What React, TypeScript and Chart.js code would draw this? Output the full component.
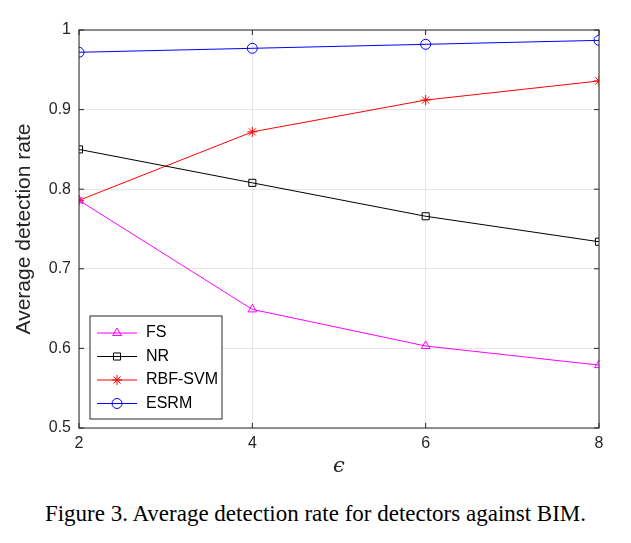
import { useEffect, useRef } from 'react'
import { Chart, registerables } from 'chart.js'
import { drawPoint } from 'chart.js/helpers'

Chart.register(...registerables)

const epsilons = [2, 4, 6, 8]
const fsRate = [0.786, 0.649, 0.603, 0.579]
const nrRate = [0.85, 0.808, 0.766, 0.734]
const rbfRate = [0.786, 0.872, 0.912, 0.936]
const esrmRate = [0.972, 0.977, 0.982, 0.987]

const boxPlugin = {
  id: 'boxAndLegend',
  afterDraw(chart: any) {
    const { ctx, chartArea: a } = chart
    ctx.save()
    ctx.strokeStyle = '#262626'
    ctx.lineWidth = 1
    ctx.strokeRect(a.left, a.top, a.right - a.left, a.bottom - a.top)
    // inward ticks
    const xs = chart.scales.x
    const ys = chart.scales.y
    ctx.beginPath()
    xs.ticks.forEach((t: any) => {
      const px = xs.getPixelForValue(t.value)
      ctx.moveTo(px, a.bottom); ctx.lineTo(px, a.bottom - 5)
      ctx.moveTo(px, a.top); ctx.lineTo(px, a.top + 5)
    })
    ys.ticks.forEach((t: any) => {
      const py = ys.getPixelForValue(t.value)
      ctx.moveTo(a.left, py); ctx.lineTo(a.left + 5, py)
      ctx.moveTo(a.right, py); ctx.lineTo(a.right - 5, py)
    })
    ctx.stroke()
    // legend
    const lx = 82, ly = 308, lw = 132, lh = 103
    ctx.fillStyle = '#fff'
    ctx.fillRect(lx, ly, lw, lh)
    ctx.strokeRect(lx, ly, lw, lh)
    chart.data.datasets.forEach((ds: any, i: number) => {
      const y = ly + 17 + i * 23.5
      ctx.strokeStyle = ds.borderColor
      ctx.beginPath()
      ctx.moveTo(lx + 7, y); ctx.lineTo(lx + 47, y)
      ctx.stroke()
      ctx.fillStyle = 'rgba(0,0,0,0)'
      ctx.strokeStyle = ds.borderColor
      ctx.lineWidth = 1
      drawPoint(ctx, {
        pointStyle: ds.pointStyle,
        radius: ds.pointRadius,
        borderWidth: 1,
      } as any, lx + 27, y)
      ctx.fillStyle = '#000'
      ctx.font = '16px Arial, "Liberation Sans"'
      ctx.textBaseline = 'middle'
      ctx.fillText(ds.label, lx + 56, y)
    })
    ctx.restore()
  },
}

function mk(label: string, data: number[], color: string, style: string) {
  return {
    label, data, borderColor: color, backgroundColor: 'transparent',
    pointStyle: style, pointRadius: 5, pointBorderColor: color,
    pointBackgroundColor: 'transparent', borderWidth: 1, pointBorderWidth: 1,
  }
}

export default function App() {
  const canvasRef = useRef<HTMLCanvasElement>(null)

  useEffect(() => {
    if (!canvasRef.current) return
    const chart = new Chart(canvasRef.current, {
      type: 'line',
      data: {
        datasets: [
          mk('FS', fsRate, '#ff00ff', 'triangle'),
          mk('NR', nrRate, '#000000', 'rect'),
          mk('RBF-SVM', rbfRate, '#ff0000', 'star'),
          mk('ESRM', esrmRate, '#0000ff', 'circle'),
        ].map((d) => ({ ...d, data: d.data.map((v, i) => ({ x: epsilons[i], y: v })) })) as any,
      },
      plugins: [boxPlugin],
      options: {
        animation: false,
        responsive: false,
        layout: { padding: { top: 22, right: 24, left: 0, bottom: 0 } },
        plugins: { legend: { display: false }, tooltip: { enabled: false } },
        scales: {
          x: {
            type: 'linear', min: 2, max: 8,
            afterFit: (s: any) => { s.height = 55 },
            ticks: { stepSize: 2, color: '#262626', font: { size: 16, family: 'Arial, "Liberation Sans"' }, padding: 6 },
            grid: { color: '#e6e6e6', drawTicks: false },
            border: { display: false },
            title: { display: true, text: 'ϵ', color: '#262626', padding: { top: 6 }, font: { size: 21, family: '"DejaVu Serif", serif', style: 'italic' } },
          },
          y: {
            min: 0.5, max: 1,
            afterFit: (s: any) => { s.width = 71 },
            ticks: { stepSize: 0.1, color: '#262626', font: { size: 16, family: 'Arial, "Liberation Sans"' }, padding: 8, callback: (v: any) => (v === 1 ? '1' : Number(v).toFixed(1)) },
            grid: { color: '#e6e6e6', drawTicks: false },
            border: { display: false },
            title: { display: true, text: 'Average detection rate', color: '#262626', padding: { bottom: 2 }, font: { size: 21, family: 'Arial, "Liberation Sans"' } },
          },
        },
      },
    })
    return () => chart.destroy()
  }, [])

  return (
    <div style={{ width: 615 }}>
      <canvas ref={canvasRef} width={615} height={475} style={{ display: 'block' }} />
      <div style={{ textAlign: 'center', fontFamily: '"Liberation Serif", "Times New Roman", serif', fontSize: 23, marginTop: 18 }}>
        Figure 3. Average detection rate for detectors against BIM.
      </div>
    </div>
  )
}
